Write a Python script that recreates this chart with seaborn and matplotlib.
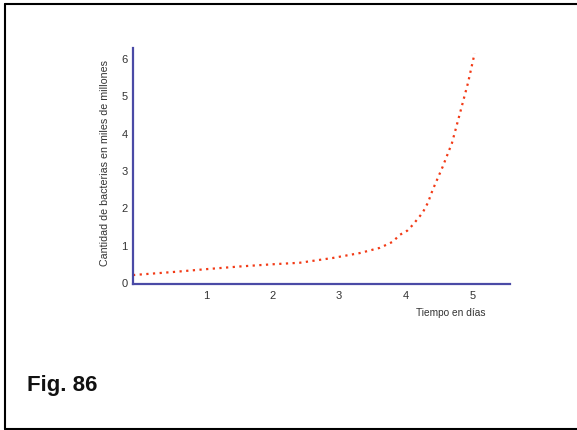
import matplotlib
matplotlib.use("Agg")
import matplotlib.pyplot as plt
from matplotlib.lines import Line2D
import seaborn as sns
import pandas as pd

# Data
dias = [-0.09, 0.5, 1.02, 1.51, 2.01, 2.41, 2.91, 3.31, 3.61, 3.80, 3.91,
        4.02, 4.10, 4.25, 4.33, 4.40, 4.55, 4.69, 4.81, 4.93, 5.03]
bacterias = [0.21, 0.29, 0.37, 0.44, 0.50, 0.54, 0.67, 0.80, 0.94, 1.10, 1.29,
             1.40, 1.55, 1.88, 2.15, 2.49, 3.11, 3.75, 4.55, 5.36, 6.16]
xticks = [1, 2, 3, 4, 5]
yticks = [0, 1, 2, 3, 4, 5, 6]

df = pd.DataFrame({"dias": dias, "bacterias": bacterias})

sns.set_theme(style="white")
plt.rcParams["font.family"] = ["Liberation Sans", "DejaVu Sans"]

fig = plt.figure(figsize=(5.77, 4.30), dpi=100)
ax = fig.add_axes([133/577, 1 - 284/430, (510-133)/577, (284-48)/430])

sns.lineplot(data=df, x="dias", y="bacterias", ax=ax, color="#f23a16",
             linewidth=1.6, linestyle=(0, (1, 2)), dash_capstyle="butt")

ax.set_xlim(-0.09, 5.56)
ax.set_ylim(-0.03, 6.3)
ax.set_xticks(xticks)
ax.set_xticklabels([str(t) for t in xticks])
ax.set_yticks(yticks)
ax.set_yticklabels([str(t) for t in yticks])
ax.tick_params(axis="both", length=0, labelsize=8, labelcolor="#333333")
ax.tick_params(axis="x", pad=5)
ax.tick_params(axis="y", pad=4)

for s in ["top", "right"]:
    ax.spines[s].set_visible(False)
for s in ["left", "bottom"]:
    ax.spines[s].set_color("#4a4aa6")
    ax.spines[s].set_linewidth(1.6)

ax.set_xlabel("")
ax.set_ylabel("")
fig.text(105/577, 1 - 163/430, "Cantidad de bacterias en miles de millones",
         rotation=90, ha="center", va="center", fontsize=7.7, color="#333333")
fig.text(451/577, 1 - 313/430, "Tiempo en días", ha="center", va="center",
         fontsize=7.3, color="#333333")
fig.text(27/577, 1 - 386/430, "Fig. 86", ha="left", va="center",
         fontsize=16, fontweight="bold", color="#111111")

# Frame around the figure
fig.add_artist(Line2D([5/577, 5/577], [1 - 4/430, 1 - 429/430], color="black", lw=1.5, transform=fig.transFigure))
fig.add_artist(Line2D([5/577, 1], [1 - 4/430, 1 - 4/430], color="black", lw=1.5, transform=fig.transFigure))
fig.add_artist(Line2D([5/577, 1], [1 - 429/430, 1 - 429/430], color="black", lw=1.5, transform=fig.transFigure))

fig.savefig("out.png", dpi=100)
